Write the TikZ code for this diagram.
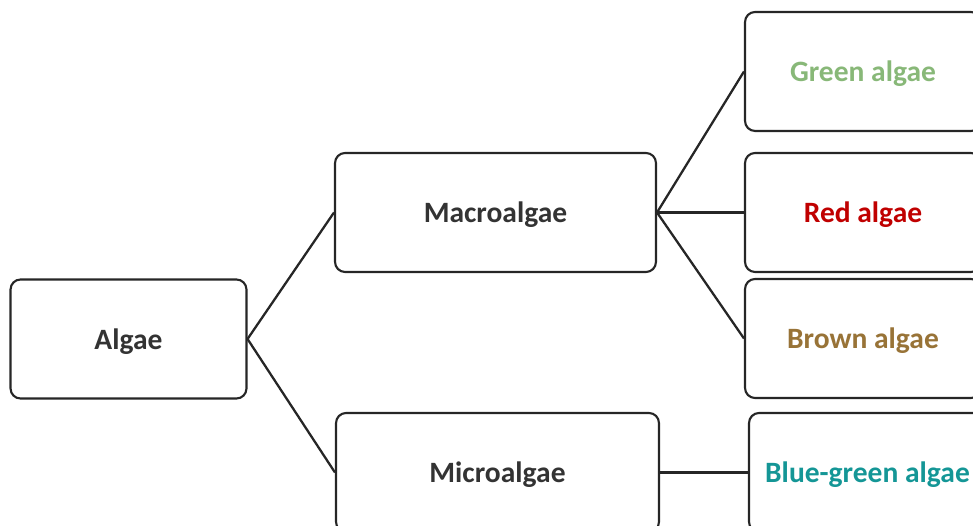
\documentclass[tikz,border=0pt]{standalone}
\usepackage{fontspec}
\setmainfont{Carlito}
\definecolor{txtdark}{HTML}{333333}
\definecolor{txtgreen}{HTML}{88B878}
\definecolor{txtred}{HTML}{C00000}
\definecolor{txtbrown}{HTML}{987337}
\definecolor{txtteal}{HTML}{149696}
\begin{document}
\begin{tikzpicture} [x=0.02cm, y=-0.02cm]
    \tikzstyle{every node}=[align = center, font=\fontsize{16.8}{20}\selectfont\bfseries]
    \tikzstyle{box} = [draw=black!85, line width=1.2pt, rounded corners=0.2cm, fill=white,
        minimum width=4.72cm, minimum height=2.38cm, text depth=0pt, text=txtdark]
    \tikzstyle{midbox} = [box, minimum width=6.42cm]
    \tikzstyle{link} = [draw=black!85, line width=1.3pt]
    \clip (0,0) rectangle (973,526);
    \node[box] (algae) at (128.5,339) {Algae};
    \node[midbox] (macro) at (495.5,212.5) {Macroalgae};
    \node[midbox, minimum width=6.46cm] (micro) at (497.5,472.5) {Microalgae};
    \node[box, text=txtgreen] (green) at (863,71.5) {Green algae};
    \node[box, text=txtred] (red) at (863,212.5) {Red algae};
    \node[box, text=txtbrown] (brown) at (863,338.5) {Brown algae};
    \node[box, minimum width=4.74cm, text=txtteal] (bluegreen) at (867.5,472.5) {Blue-green algae};
    % connectors
    \draw[link] (algae.east) -- (macro.west);
    \draw[link] (algae.east) -- (micro.west);
    \draw[link] (macro.east) -- (green.west);
    \draw[link, line width=1.6pt] (macro.east) -- (red.west);
    \draw[link] (macro.east) -- (brown.west);
    \draw[link, line width=1.6pt] (micro.east) -- (bluegreen.west);
\end{tikzpicture}
\end{document}
